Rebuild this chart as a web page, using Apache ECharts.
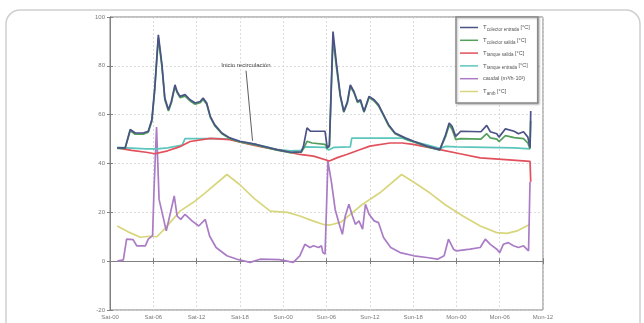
<!DOCTYPE html>
<html>
<head>
<meta charset="utf-8">
<script src="https://cdn.jsdelivr.net/npm/echarts@6/dist/echarts.min.js"></script>
<style>
  html, body { margin: 0; padding: 0; background: #ffffff; }
  #chart { width: 644px; height: 323px; }
</style>
</head>
<body>
<div id="chart"></div>
<script>
// Time axis: hours from Saturday 00:00, one tick every 6 h
const xTickLabels = ['Sat-00', 'Sat-06', 'Sat-12', 'Sat-18', 'Sun-00', 'Sun-06',
                     'Sun-12', 'Sun-18', 'Mon-00', 'Mon-06', 'Mon-12'];
const yTicks = { min: -20, max: 100, step: 20 };

const seriesNames = [
  'colector entrada',
  'colector salida',
  'tanque salida',
  'tanque entrada',
  'caudal',
  'amb'
];

// [hour, value]
const tColectorEntrada = [
  [1.0,46.4],[2.1,46.4],[2.8,53.9],[3.5,52.5],[4.6,52.5],[5.3,53.2],[5.8,58.0],[6.2,70.9],
  [6.7,92.7],[7.2,80.4],[7.6,66.8],[8.1,62.0],[8.5,65.4],[9.0,72.2],[9.3,69.5],[9.7,67.5],
  [10.4,68.2],[11.1,66.1],[11.8,64.8],[12.5,65.4],[12.9,66.8],[13.4,64.8],[13.9,59.3],[14.5,55.9],
  [15.5,52.5],[16.6,50.5],[18.0,49.1],[20.3,47.8],[23.1,45.7],[25.0,44.6],[26.5,44.8],[26.8,47.0],
  [27.3,54.6],[27.8,53.2],[29.8,53.2],[30.1,46.4],[30.4,47.5],[30.9,94.0],[31.4,80.4],[31.9,68.2],
  [32.4,61.3],[32.9,65.4],[33.3,72.2],[33.8,69.5],[34.3,65.4],[34.7,66.1],[35.2,61.3],[35.9,67.5],
  [36.6,66.1],[37.2,64.1],[37.9,60.0],[38.6,55.9],[39.5,52.5],[40.9,50.5],[42.1,49.1],[43.9,47.1],
  [45.7,45.7],[46.5,51.8],[47.0,56.6],[47.4,55.2],[47.9,51.1],[48.6,53.2],[51.4,53.0],[52.2,55.6],
  [52.7,53.0],[53.6,52.2],[53.9,50.8],[54.8,54.2],[56.0,53.2],[56.6,52.2],[57.3,53.0],[57.9,50.8],
  [58.2,46.5],[58.3,61.5]
];
const tColectorSalida = [
  [1.0,46.2],[2.1,46.2],[2.8,53.4],[3.5,52.0],[4.6,52.0],[5.3,52.8],[5.8,57.2],[6.2,70.0],
  [6.7,91.5],[7.2,79.6],[7.6,66.0],[8.1,61.5],[8.5,64.8],[9.0,71.5],[9.3,69.0],[9.7,67.0],
  [10.4,67.6],[11.1,65.6],[11.8,64.3],[12.5,64.9],[12.9,66.2],[13.4,64.3],[13.9,58.9],[14.5,55.5],
  [15.5,52.2],[16.6,50.2],[18.0,48.8],[20.3,47.5],[23.1,45.5],[25.0,44.4],[26.5,44.6],[26.8,46.0],
  [27.3,49.1],[28.0,48.4],[29.8,47.8],[30.1,46.2],[30.4,47.0],[30.9,91.0],[31.4,79.0],[31.9,67.5],
  [32.4,61.0],[32.9,64.8],[33.3,71.5],[33.8,69.0],[34.3,65.0],[34.7,65.6],[35.2,61.0],[35.9,67.0],
  [36.6,65.6],[37.2,63.6],[37.9,59.6],[38.6,55.5],[39.5,52.2],[40.9,50.2],[42.1,48.8],[43.9,46.9],
  [45.7,45.5],[46.5,51.0],[47.0,55.8],[47.4,54.0],[47.9,49.8],[48.6,50.2],[51.4,50.0],[52.2,52.2],
  [52.7,50.5],[53.6,50.0],[53.9,49.0],[54.8,51.4],[56.0,50.6],[57.3,50.2],[57.9,48.4],[58.2,46.0],
  [58.3,57.5]
];
const tTanqueSalida = [
  [1.0,46.4],[3.0,45.4],[5.0,44.6],[6.2,44.0],[8.0,45.2],[9.6,46.8],[11.1,49.0],[13.9,50.3],
  [16.6,49.8],[19.4,47.8],[21.0,46.8],[23.1,45.7],[26.3,43.7],[28.2,43.0],[30.4,41.0],[31.5,42.4],
  [32.8,43.7],[34.5,45.5],[36.0,47.1],[38.8,48.4],[40.5,48.4],[42.0,47.8],[45.7,45.7],[48.5,44.0],
  [51.3,42.3],[54.8,41.6],[58.2,40.9],[58.3,32.5]
];
const tTanqueEntrada = [
  [1.0,46.6],[5.0,46.0],[6.5,46.0],[8.0,46.4],[10.0,47.5],[10.4,50.2],[15.0,50.2],[16.6,50.0],
  [18.0,49.0],[20.3,47.7],[23.1,45.8],[25.0,45.2],[26.5,45.4],[27.0,46.8],[29.8,46.6],[30.3,45.5],
  [31.0,46.6],[33.3,46.8],[33.5,50.4],[40.5,50.4],[41.2,49.6],[43.9,47.6],[45.7,46.2],[46.5,47.0],
  [48.0,46.8],[52.0,46.6],[56.0,46.4],[58.2,46.0]
];
const caudal = [
  [1.0,0.0],[1.85,0.5],[2.3,9.0],[3.2,8.8],[3.7,6.3],[4.9,6.3],[5.3,9.0],[5.9,10.5],
  [6.1,29.4],[6.45,54.9],[6.8,25.3],[7.8,12.4],[8.0,11.7],[8.9,26.7],[9.3,18.5],[9.8,17.1],
  [10.4,19.2],[11.4,16.4],[12.3,14.4],[13.2,17.1],[13.8,10.3],[14.7,5.6],[16.2,2.2],[17.6,0.8],
  [19.4,-0.5],[20.8,0.8],[23.5,0.6],[25.4,-0.5],[26.3,2.2],[27.0,6.9],[27.7,5.6],[28.2,6.3],
  [28.9,5.6],[29.3,6.3],[29.5,3.5],[29.8,2.9],[30.2,41.0],[30.7,32.1],[31.2,21.2],[31.7,15.8],
  [32.2,11.0],[32.6,18.5],[33.1,23.3],[33.6,18.5],[34.0,15.1],[34.5,16.5],[35.0,13.1],[35.4,23.3],
  [35.9,19.2],[36.6,16.5],[37.2,15.8],[37.9,9.7],[38.9,5.6],[40.2,3.5],[42.1,2.2],[43.9,1.5],
  [45.4,0.8],[46.3,2.2],[46.9,9.0],[47.6,4.9],[48.0,4.2],[49.9,4.9],[51.3,5.6],[52.0,9.0],
  [52.7,6.9],[53.6,4.9],[54.0,3.5],[54.5,6.9],[55.2,7.6],[55.9,6.3],[56.6,5.6],[57.3,6.3],
  [58.0,4.2],[58.2,32.5]
];
const tAmb = [
  [1.0,14.4],[2.5,12.0],[4.2,9.8],[5.5,10.2],[6.5,10.0],[7.5,13.0],[9.7,20.5],[11.5,24.0],
  [13.2,28.0],[16.2,35.5],[18.0,31.3],[20.0,25.6],[22.2,20.5],[24.6,20.0],[26.3,18.5],[28.0,16.6],
  [29.5,15.1],[30.5,14.8],[32.0,16.0],[35.0,23.3],[37.4,28.0],[40.4,35.5],[42.0,32.5],[44.3,28.0],
  [46.5,23.0],[48.9,18.5],[51.3,14.4],[53.6,11.7],[55.0,11.4],[56.4,12.4],[58.2,15.1]
];

// Arrow annotation: text anchor and arrow tip, in data units
const noteText = 'Inicio recirculación';
const noteStart = [18.85, 78.0];
const noteTip = [19.75, 49.3];

const colors = ['#4a5286', '#52a05c', '#e2505c', '#5cc6bc', '#ab7cc6', '#d8d67c'];
const seriesData = [tColectorEntrada, tColectorSalida, tTanqueSalida, tTanqueEntrada, caudal, tAmb];
// yellow drawn first, collector inlet last (on top)
const drawOrder = [5, 4, 3, 2, 1, 0];

const legendRich = {
  t: { fontSize: 6, color: '#555', fontFamily: 'Liberation Sans' },
  s: { fontSize: 4.5, color: '#555', fontFamily: 'Liberation Sans', padding: [4, 0, 0, 0] },
  u: { fontSize: 5.5, color: '#555', fontFamily: 'Liberation Sans' }
};
function legendLabel(name) {
  if (name === 'caudal') return '{u|caudal (m³/h·10²)}';
  return '{t|T}{s|' + name + '}{u| [°C]}';
}

const chart = echarts.init(document.getElementById('chart'), null, { renderer: 'canvas' });

const axisGrey = '#808080';
const tickFont = { fontSize: 6, color: '#7a7a7a', fontFamily: 'Liberation Sans' };

const series = drawOrder.map(function (i, k) {
  const s = {
    name: seriesNames[i],
    type: 'line',
    data: seriesData[i],
    showSymbol: false,
    symbol: 'none',
    smooth: false,
    z: 3 + k,
    lineStyle: { color: colors[i], width: 1.7 },
    itemStyle: { color: colors[i] },
    silent: true
  };
  if (i === 0) {
    s.markLine = {
      silent: true,
      animation: false,
      symbol: ['none', 'arrow'],
      symbolSize: [0, 6],
      lineStyle: { color: '#333', width: 0.8, type: 'solid' },
      label: {
        show: true, position: 'start', formatter: noteText,
        fontSize: 6, color: '#444', fontFamily: 'Liberation Sans', distance: 2
      },
      data: [[{ coord: noteStart }, { coord: noteTip }]]
    };
  }
  return s;
});

chart.setOption({
  animation: false,
  backgroundColor: '#ffffff',
  graphic: [{
    type: 'rect',
    shape: { x: 6, y: 10, width: 634, height: 340, r: 14 },
    style: { fill: 'none', stroke: '#cfcfcf', lineWidth: 1.5 },
    z: -1
  }],
  grid: {
    left: 110, right: 101, top: 17, bottom: 13,
    show: true, borderColor: axisGrey, borderWidth: 1, backgroundColor: '#ffffff'
  },
  legend: {
    orient: 'vertical',
    left: 456, top: 17,
    width: 87,
    padding: [6, 8, 7, 4],
    itemGap: 3.8,
    itemWidth: 18, itemHeight: 1.5,
    icon: 'rect',
    backgroundColor: '#ffffff',
    borderColor: '#8a8a8a', borderWidth: 1.5,
    shadowColor: 'rgba(0,0,0,0.25)', shadowBlur: 2, shadowOffsetX: 1, shadowOffsetY: 1,
    data: seriesNames,
    formatter: legendLabel,
    textStyle: { rich: legendRich, fontSize: 6, lineHeight: 9 },
    selectedMode: false
  },
  xAxis: [{
    type: 'value', min: 0, max: 60, interval: 6,
    axisLine: { show: true, lineStyle: { color: axisGrey } },
    axisTick: { show: true, inside: true, length: 3, lineStyle: { color: axisGrey } },
    axisLabel: Object.assign({ margin: 4, formatter: function (v) { return xTickLabels[Math.round(v / 6)]; } }, tickFont),
    splitLine: { show: true, lineStyle: { color: '#d4d4d4', type: [2, 2], width: 0.8 } }
  }, {
    type: 'value', min: 0, max: 60, interval: 6, position: 'top',
    axisLine: { show: true, lineStyle: { color: axisGrey } },
    axisTick: { show: true, inside: true, length: 3, lineStyle: { color: axisGrey } },
    axisLabel: { show: false }, splitLine: { show: false }
  }],
  yAxis: [{
    type: 'value', min: yTicks.min, max: yTicks.max, interval: yTicks.step,
    axisLine: { show: true, lineStyle: { color: axisGrey } },
    axisTick: { show: true, inside: true, length: 3, lineStyle: { color: axisGrey } },
    axisLabel: Object.assign({ margin: 5 }, tickFont),
    splitLine: { show: true, lineStyle: { color: '#d4d4d4', type: [2, 2], width: 0.8 } }
  }, {
    type: 'value', min: yTicks.min, max: yTicks.max, interval: yTicks.step, position: 'right',
    axisLine: { show: true, lineStyle: { color: axisGrey } },
    axisTick: { show: true, inside: true, length: 3, lineStyle: { color: axisGrey } },
    axisLabel: { show: false }, splitLine: { show: false }
  }],
  series: series
});
</script>
</body>
</html>
